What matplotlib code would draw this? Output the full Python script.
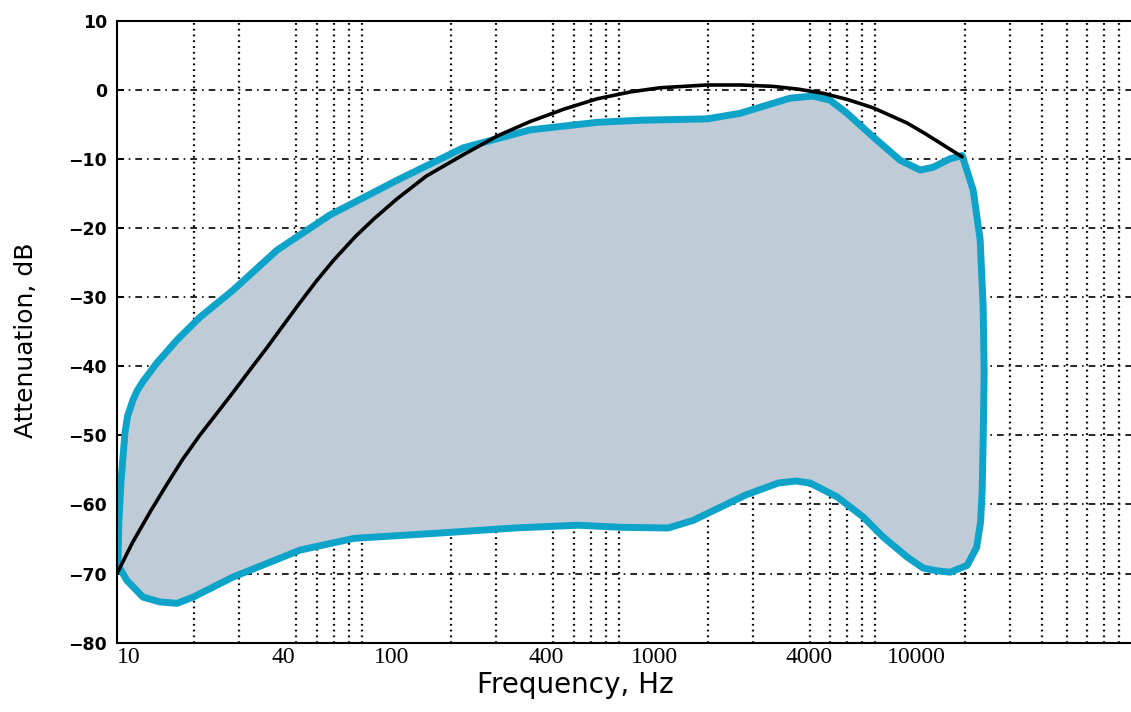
import matplotlib
matplotlib.use('Agg')
import matplotlib.pyplot as plt
from matplotlib.ticker import FixedLocator, NullFormatter

# Shaded band, upper edge from left to right (Hz, dB)
upper_freq = [10.09, 10.18, 10.36, 10.74, 11.0, 11.54, 12.0, 12.63, 14.32, 17.13,
              21.05, 28.3, 42.0, 67.6, 123, 223, 406, 741, 1090, 1990,
              2670, 3410, 4190, 5140, 5990, 6980, 8810, 11230, 13440, 15100,
              17500, 19580]
upper_db = [-68.1, -62.3, -56.9, -49.7, -47.2, -44.9, -43.5, -42.2, -39.5, -36.2,
            -32.9, -29.0, -23.2, -18.1, -13.1, -8.4, -5.8, -4.7, -4.4, -4.2,
            -3.4, -2.2, -1.2, -0.9, -1.5, -3.4, -6.8, -10.2, -11.6, -11.2,
            -10.0, -9.5]

# Right edge going down, then lower edge from right to left
lower_freq = [21610, 23010, 23640, 23850, 23640, 23430, 23100, 22300, 20480, 17580,
              15650, 13800, 11950, 9640, 8055, 6380, 5010, 4400, 3760, 2820,
              1754, 1401, 919, 625, 352, 186, 83.8, 51.6, 44.3, 28.3,
              19.8, 17.13, 14.7, 12.63, 10.94, 10.09]
lower_db = [-14.5, -21.7, -31.4, -41.0, -50.7, -58.0, -62.5, -66.2, -68.8, -69.8,
            -69.6, -69.2, -67.6, -64.7, -61.8, -58.9, -56.9, -56.6, -56.9, -58.6,
            -62.3, -63.4, -63.3, -63.0, -63.4, -64.1, -64.9, -66.6, -67.6, -70.5,
            -73.4, -74.3, -74.1, -73.4, -71.0, -68.8]

# Black reference curve
curve_freq = [10, 11.5, 13.5, 15.7, 18, 21, 24.5, 28.3, 33, 38.4,
              45, 51.6, 60, 70, 85, 100, 123, 160, 223, 302,
              406, 550, 741, 1000, 1304, 1988, 2700, 3594, 4500, 5627,
              7000, 8813, 11950, 14000, 16080, 19580]
curve_db = [-70, -65.5, -61, -57, -53.5, -50, -46.8, -43.8, -40.5, -37.3,
            -33.8, -30.8, -27.6, -24.6, -21.2, -18.7, -15.8, -12.5, -9.4, -6.7,
            -4.6, -2.8, -1.3, -0.3, 0.3, 0.7, 0.7, 0.5, 0.1, -0.5,
            -1.4, -2.6, -4.8, -6.3, -7.7, -9.7]

xtick_vals = [10, 40, 100, 400, 1000, 4000, 10000]
xtick_labels = ['10', '40', '100', '400', '1000', '4000', '10000']
ytick_vals = list(range(-80, 11, 10))


def main():
    fig = plt.figure(figsize=(11.31, 7.12), dpi=100)
    ax = fig.add_axes([0.1034, 0.0973, 0.8966, 0.8736])
    ax.set_xscale('log')
    ax.set_xlim(10, 89000)
    ax.set_ylim(-80, 10)

    # band with thick blue outline
    band_x = upper_freq + lower_freq
    band_y = upper_db + lower_db
    ax.fill(band_x, band_y, facecolor='#bfcbd7', edgecolor='#0ea3c9',
            linewidth=5, joinstyle='round', zorder=2)
    ax.plot(curve_freq, curve_db, color='black', linewidth=2.6,
            solid_capstyle='round', solid_joinstyle='round', zorder=3)

    # ticks and grid
    grid_pos = [k * 10 ** n for n in range(1, 5) for k in range(2, 11)]
    ax.xaxis.set_major_locator(FixedLocator(xtick_vals))
    ax.set_xticklabels(xtick_labels, fontfamily='Liberation Serif', fontsize=17, ha='left')
    ax.xaxis.set_minor_locator(FixedLocator(grid_pos))
    ax.xaxis.set_minor_formatter(NullFormatter())
    ax.tick_params(axis='x', which='both', length=0, pad=3)
    ax.xaxis.grid(True, which='minor', color='black', linestyle=(0, (0.8, 1.8)), linewidth=1.6)
    ax.xaxis.grid(False, which='major')

    ax.set_yticks(ytick_vals)
    ax.set_yticklabels([str(v).replace('-', '\u2212') for v in ytick_vals],
                       fontweight='bold', fontsize=12.5)
    ax.tick_params(axis='y', direction='in', length=5, width=1.4, pad=7)
    ax.yaxis.grid(True, color='black', linestyle=(0, (4, 3, 1, 3)), linewidth=1.2)
    ax.set_axisbelow(True)

    for side in ['left', 'bottom', 'top']:
        ax.spines[side].set_linewidth(1.5)
    ax.spines['right'].set_visible(False)

    ax.set_xlabel('Frequency, Hz', fontsize=20)
    ax.xaxis.set_label_coords(0.4517, -0.046)
    ax.set_ylabel('Attenuation, dB', fontsize=18, va='center')
    ax.yaxis.set_label_coords(-0.0897, 0.487)

    fig.savefig('out.png', dpi=100)


if __name__ == '__main__':
    main()
